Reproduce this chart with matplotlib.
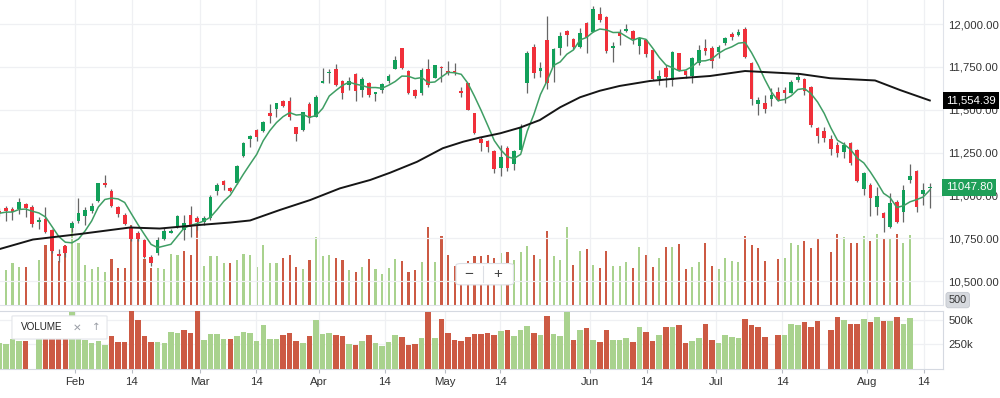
import numpy as np
import pandas as pd
import matplotlib
matplotlib.use("Agg")
import matplotlib.pyplot as plt
from matplotlib.transforms import blended_transform_factory
from matplotlib.patches import FancyBboxPatch
from matplotlib.lines import Line2D

plt.rcParams['font.family'] = ['Liberation Sans', 'DejaVu Sans']

# ---------------- data ----------------
opens = [10912, 10926, 10922, 10922, 10953, 10934, 10846, 10865, 10800, 10660,
         10706, 10809, 10852, 10881, 10912, 10970, 11072, 11029, 10932, 10885,
         10817, 10784, 10741, 10640, 10664, 10747, 10784, 10819, 10800, 10885,
         10868, 10844, 10868, 11027, 11085, 11046, 11072, 11233, 11330, 11384,
         11378, 11480, 11505, 11553, 11553, 11400, 11382, 11534, 11460, 11658,
         11713, 11738, 11668, 11645, 11709, 11615, 11654, 11590, 11615, 11670,
         11738, 11858, 11728, 11615, 11598, 11738, 11688, 11751, 11728, 11728,
         11610, 11654, 11480, 11328, 11318, 11260, 11159, 11276, 11184, 11266,
         11654, 11868, 11728, 11907, 11751, 11858, 11959, 11911, 11868, 12004,
         11955, 12057, 12039, 11862, 11946, 11959, 11961, 11874, 11907, 11849,
         11678, 11745, 11674, 11829, 11728, 11697, 11775, 11862, 11863, 11839,
         11892, 11939, 11934, 11969, 11771, 11532, 11538, 11563, 11602, 11615,
         11600, 11674, 11678, 11631, 11396, 11377, 11328, 11295, 11256, 11308,
         11266, 11037, 11062, 10935, 10897, 10819, 10964, 10903, 11091, 11145,
         11009, 11046]
highs = [10928, 10939, 10934, 10988, 10957, 10944, 10877, 10935, 10805, 10691,
         10712, 10852, 10984, 10935, 10959, 11075, 11120, 11037, 10939, 10897,
         10829, 10794, 10747, 10654, 10761, 10809, 10804, 10887, 10887, 10939,
         10881, 10881, 11004, 11072, 11091, 11052, 11178, 11314, 11353, 11388,
         11437, 11534, 11541, 11557, 11573, 11402, 11489, 11547, 11586, 11742,
         11738, 11767, 11674, 11690, 11715, 11693, 11662, 11606, 11658, 11709,
         11814, 11860, 11732, 11621, 11742, 11796, 11761, 11758, 11784, 11775,
         11633, 11656, 11481, 11343, 11324, 11266, 11295, 11291, 11266, 11417,
         11843, 11884, 11780, 12047, 11860, 11955, 11965, 11919, 11975, 12012,
         12107, 12097, 12047, 11897, 11969, 11998, 11965, 11926, 11913, 11854,
         11732, 11761, 11845, 11831, 11732, 11810, 11878, 11911, 11872, 11878,
         11924, 11955, 11971, 11981, 11776, 11576, 11586, 11629, 11635, 11635,
         11674, 11709, 11684, 11639, 11400, 11398, 11353, 11314, 11314, 11314,
         11272, 11138, 11072, 11052, 10906, 11017, 10974, 11062, 11182, 11149,
         11075, 11072]
lows = [10881, 10852, 10858, 10893, 10875, 10819, 10804, 10780, 10666, 10615,
        10644, 10788, 10839, 10829, 10897, 10964, 11052, 10935, 10874, 10829,
        10735, 10735, 10636, 10590, 10654, 10741, 10780, 10809, 10741, 10761,
        10800, 10829, 10858, 11004, 11033, 11023, 11068, 11227, 11285, 11318,
        11372, 11423, 11460, 11516, 11441, 11320, 11377, 11421, 11456, 11654,
        11654, 11639, 11563, 11615, 11553, 11576, 11576, 11553, 11596, 11654,
        11736, 11740, 11592, 11569, 11586, 11631, 11685, 11664, 11703, 11703,
        11576, 11496, 11359, 11262, 11256, 11130, 11116, 11145, 11149, 11260,
        11596, 11687, 11693, 11621, 11664, 11819, 11872, 11853, 11858, 11833,
        11952, 12014, 11833, 11777, 11878, 11952, 11882, 11825, 11810, 11674,
        11645, 11631, 11639, 11726, 11684, 11658, 11761, 11819, 11742, 11800,
        11878, 11907, 11930, 11804, 11528, 11470, 11480, 11522, 11551, 11538,
        11596, 11664, 11586, 11402, 11305, 11314, 11237, 11227, 11217, 11178,
        11079, 11004, 10881, 10887, 10790, 10811, 10842, 10848, 11072, 10906,
        10945, 10930]
closes = [10897, 10910, 10906, 10964, 10930, 10835, 10858, 10790, 10679, 10648,
          10667, 10839, 10900, 10916, 10939, 11072, 11060, 10939, 10893, 10835,
          10747, 10745, 10644, 10607, 10741, 10794, 10794, 10883, 10842, 10819,
          10848, 10868, 10994, 11060, 11060, 11029, 11174, 11305, 11349, 11343,
          11431, 11466, 11538, 11522, 11460, 11361, 11485, 11451, 11576, 11668,
          11722, 11645, 11600, 11670, 11611, 11680, 11586, 11602, 11649, 11699,
          11790, 11742, 11596, 11581, 11730, 11645, 11759, 11741, 11717, 11717,
          11600, 11499, 11363, 11308, 11281, 11153, 11227, 11159, 11260, 11402,
          11829, 11713, 11742, 11658, 11853, 11930, 11936, 11868, 11949, 11926,
          12088, 12023, 11843, 11872, 11930, 11969, 11911, 11917, 11825, 11678,
          11697, 11691, 11835, 11732, 11703, 11800, 11849, 11845, 11787, 11864,
          11916, 11923, 11951, 11810, 11561, 11557, 11505, 11586, 11557, 11596,
          11664, 11690, 11611, 11411, 11349, 11334, 11270, 11250, 11295, 11192,
          11085, 11130, 10984, 10999, 10868, 10955, 10848, 11033, 11114, 10932,
          11033, 11047.80]

# volume in thousands (None = no bar)
volumes_k = [264, 257, 309, 281, 281, None, 336, 441, 454, 326,
             447, 580, 460, 298, 264, 281, 247, 340, 274, 274,
             590, 504, 340, 274, 274, 264, 377, 367, 401, 367,
             590, 291, 360, 360, 309, 309, 333, 377, 367, 281,
             446, 309, 309, 350, 367, 281, 264, 333, 504, 360,
             367, 350, 333, 257, 247, 281, 343, 264, 230, 274,
             343, 326, 247, 257, 316, 580, 316, 511, 367, 291,
             281, 326, 360, 360, 367, 350, 384, 394, 333, 394,
             435, 367, 343, 545, 360, 333, 580, 298, 401, 418,
             298, 274, 401, 291, 291, 316, 274, 429, 374, 281,
             350, 429, 429, 453, 264, 281, 316, 463, 291, 264,
             350, 326, 316, 511, 446, 425, 326, None, 343, 350,
             463, 446, 477, 425, 494, None, 394, 528, 504, 463,
             463, 511, 477, 528, 487, 494, 528, 460, 521]
# g = up colour, r = down colour, - = no bar
volume_dir = "".join([
    "ggggr-grrr", "rggggggrrr", "rrrrggggrr", "rggggrgggg", "gggrrrgrgg",
    "grrgrgrggg", "grrrgrgrrr", "rrrrrrgrgg", "grgrgggrgr", "grrgggrgrr",
    "grgrrggrrg", "gggrrrr-rg", "ggrrr-rrgr", "rgrgrgrgg"])

ma_long_idx = [0.1, 5.1, 12.2, 19.8, 24.3, 30.4, 35.0, 38.0, 42.5, 47.1, 51.6,
               56.2, 59.2, 63.3, 67.2, 70.3, 72.8, 75.9, 78.9, 81.9, 85.0, 88.0,
               91.0, 94.0, 98.6, 103.1, 107.7, 113.0, 121.3, 125.9, 132.7, 136.5, 141.0]
ma_long_val = [10689, 10744, 10776, 10814, 10808, 10829, 10843, 10855, 10916, 10974,
               11042, 11091, 11133, 11197, 11276, 11314, 11338, 11363, 11396, 11440,
               11515, 11573, 11611, 11639, 11668, 11684, 11697, 11726, 11709, 11684,
               11671, 11615, 11554.39]
ma_short_window = 5

tick_pos = [11.47, 20.1, 30.4, 38.9, 48.4, 58.4, 67.5, 75.9, 89.5, 98.1,
            108.6, 118.6, 131.5, 140.1]
tick_labels = ["Feb", "14", "Mar", "14", "Apr", "14", "May", "14", "Jun", "14",
               "Jul", "14", "Aug", "14"]
price_ticks = [10500, 10750, 11000, 11250, 11500, 11750, 12000]
vol_ticks_k = [250, 500]
last_close_label = "11047.80"
ma_long_label = "11,554.39"
scale_label = "500"

# ---------------- styling ----------------
UP = '#12a05a'
DOWN = '#f0303a'
VUP = '#a9d28e'
VDOWN = '#cc5a44'
WICK = '#666666'
GRID = '#eff0f3'
TXT = '#333333'
FS = 8.2

n = len(closes)
x = np.arange(n)
o = np.array(opens, float); c = np.array(closes, float)
h = np.array(highs, float); l = np.array(lows, float)
up = c >= o

vol = np.array([np.nan if v is None else v for v in volumes_k], float)
vx = np.arange(len(vol))
vmask = ~np.isnan(vol)
vcol = np.array([VUP if d == 'g' else VDOWN for d in volume_dir])

ma_short = pd.Series(closes).rolling(ma_short_window, min_periods=1).mean()

fig = plt.figure(figsize=(10, 3.98), dpi=100)
fig.patch.set_facecolor('white')

main_rect = [0.0, 0.2337, 0.943, 0.7663]
vol_rect = [0.0, 0.0739, 0.943, 0.1455]
xlim = (0.106, 143.0)
ylim = (10362.4, 12139.9)

# overlay volume (behind)
ax_ov = fig.add_axes(main_rect)
ax_ov.bar(vx[vmask], vol[vmask], width=0.32, color=vcol[vmask], linewidth=0)
ax_ov.set_xlim(*xlim)
ax_ov.set_ylim(0, 2260)
ax_ov.axis('off')

# main candlestick pane
ax = fig.add_axes(main_rect)
ax.patch.set_visible(False)
ax.set_xlim(*xlim)
ax.set_ylim(*ylim)
ax.set_yticks(price_ticks)
ax.set_yticklabels([f"{p:,.2f}" for p in price_ticks])
ax.yaxis.tick_right()
ax.tick_params(axis='y', length=0, pad=4, labelsize=FS, labelcolor=TXT)
ax.set_xticks(tick_pos)
ax.tick_params(axis='x', length=0, labelbottom=False)
ax.grid(True, color=GRID, linewidth=0.9)
ax.set_axisbelow(True)
for s in ['top', 'left']:
    ax.spines[s].set_visible(False)
ax.spines['right'].set_color('#e0e3ea')
ax.spines['bottom'].set_color('#e0e3ea')

ax.vlines(x, l, h, color=WICK, linewidth=0.9, zorder=2)
body_bottom = np.minimum(o, c)
body_h = np.maximum(np.abs(c - o), 6)
ax.bar(x, body_h, bottom=body_bottom, width=0.55,
       color=np.where(up, UP, DOWN), linewidth=0, zorder=3)

ax.plot(x, ma_short, color='#3f9e64', linewidth=1.1, zorder=4)
ax.plot(ma_long_idx, ma_long_val, color='#161616', linewidth=1.4, zorder=4)

# price labels on axis
bt = blended_transform_factory(ax.transAxes, ax.transData)
ax.text(1.003, ma_long_val[-1], ma_long_label, transform=bt, ha='left', va='center',
        color='white', fontsize=FS, zorder=10, clip_on=False,
        bbox=dict(boxstyle='square,pad=0.28', fc='#000000', ec='none'))
ax.text(1.003, closes[-1], last_close_label, transform=bt, ha='left', va='center',
        color='white', fontsize=FS, zorder=10, clip_on=False,
        bbox=dict(boxstyle='square,pad=0.32', fc='#1e9f58', ec='none'))
ax.text(1.006, 10391, scale_label, transform=bt, ha='left', va='center',
        color=TXT, fontsize=FS - 0.4, zorder=10, clip_on=False,
        bbox=dict(boxstyle='round,pad=0.25', fc='#d6d9de', ec='#c4c8cf', lw=0.6))

# zoom control
zb = FancyBboxPatch((0.4835, 0.066), 0.061, 0.07, boxstyle='round,pad=0,rounding_size=0.006',
                    transform=ax.transAxes, fc='white', ec='#dcdfe5', lw=0.8, zorder=11)
ax.add_patch(zb)
ax.add_line(Line2D([0.5125, 0.5125], [0.075, 0.127], transform=ax.transAxes,
                   color='#dcdfe5', lw=0.8, zorder=12))
ax.text(0.497, 0.101, "\u2212", transform=ax.transAxes, ha='center', va='center',
        fontsize=11, color='#444444', zorder=12)
ax.text(0.528, 0.101, "+", transform=ax.transAxes, ha='center', va='center',
        fontsize=11, color='#444444', zorder=12)

# volume pane
axv = fig.add_axes(vol_rect)
axv.bar(vx[vmask], vol[vmask], width=0.84, color=vcol[vmask], linewidth=0, zorder=3)
axv.set_xlim(*xlim)
axv.set_ylim(0, 596)
axv.set_yticks(vol_ticks_k)
axv.set_yticklabels([f"{v}k" for v in vol_ticks_k])
axv.yaxis.tick_right()
axv.tick_params(axis='y', length=0, pad=4, labelsize=FS, labelcolor=TXT)
axv.set_xticks(tick_pos)
axv.set_xticklabels(tick_labels)
axv.tick_params(axis='x', length=3, width=0.8, color='#b8bcc4', pad=3,
                labelsize=FS, labelcolor=TXT)
axv.grid(True, color=GRID, linewidth=0.9)
axv.set_axisbelow(True)
axv.spines['left'].set_visible(False)
for s in ['top', 'bottom', 'right']:
    axv.spines[s].set_color('#d5d9e1')

# VOLUME legend box
lb = FancyBboxPatch((0.0127, 0.51), 0.1008, 0.40, boxstyle='round,pad=0,rounding_size=0.004',
                    transform=axv.transAxes, fc='white', ec='#e3e5ea', lw=0.8, zorder=11)
axv.add_patch(lb)
axv.text(0.0225, 0.71, "VOLUME", transform=axv.transAxes, ha='left', va='center',
         fontsize=7.1, color='#222222', zorder=12)
axv.text(0.0815, 0.71, "\u2715", transform=axv.transAxes, ha='center', va='center',
         fontsize=7.5, color='#9a9ea6', zorder=12, family=['DejaVu Sans'])
axv.text(0.1025, 0.71, "\u2191", transform=axv.transAxes, ha='center', va='center',
         fontsize=7.5, color='#9a9ea6', zorder=12, family=['DejaVu Sans'])

fig.savefig('out.png', dpi=100, facecolor='white')
